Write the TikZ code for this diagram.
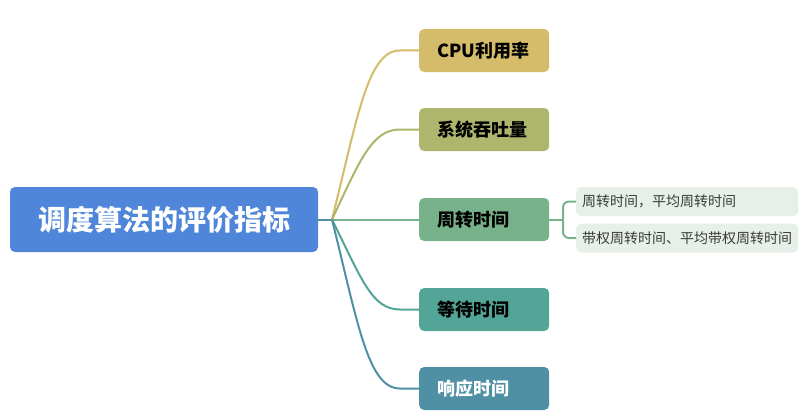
\documentclass[tikz,border=0pt]{standalone}
\usepackage{fontspec}
\setmainfont{Noto Sans CJK SC}
\usepackage{xcolor}
\usepackage{tikz}
\usetikzlibrary{positioning, calc}
\definecolor{rootblue}{HTML}{4F86D9}
\definecolor{cpucol}{HTML}{D4BC6A}
\definecolor{thrucol}{HTML}{AEB56C}
\definecolor{turncol}{HTML}{78B28A}
\definecolor{waitcol}{HTML}{53A597}
\definecolor{respcol}{HTML}{4F90A4}
\definecolor{leafbg}{HTML}{E6F0E8}
\definecolor{leaftext}{HTML}{3A3A3A}

\begin{document}
\begin{tikzpicture}[
    x=1pt, y=-1pt,
    rootbox/.style={
        rectangle, rounded corners=5pt, fill=rootblue, text=white,
        minimum width=308pt, minimum height=65pt, inner sep=0pt,
        font=\fontsize{28}{32}\selectfont\bfseries,
    },
    branch/.style={
        rectangle, rounded corners=5pt, anchor=west,
        minimum width=130pt, minimum height=43pt, inner sep=0pt,
        text width=94pt, align=left, inner xsep=18pt,
        font=\fontsize{18}{20}\selectfont\bfseries,
    },
    leaf/.style={
        rectangle, rounded corners=5pt, fill=leafbg, text=leaftext, anchor=west,
        minimum height=29pt, inner sep=0pt, text width=210pt, align=left,
        inner xsep=6pt, font=\fontsize{14}{16}\selectfont,
    },
    link/.style={line width=2pt},
]
\useasboundingbox (0,0) rectangle (808,420);

% ── Root and hub ────────────────────────────────────────────────────────────
\node[rootbox] (root) at (164,219.5) {调度算法的评价指标};
\coordinate (hub) at (332,219.5);

% ── Branches ───────────────────────────────────────────────────────────────
\def\brX{419}
\node[branch, fill=cpucol, text=black]  (cpu)  at (\brX,50.5)  {CPU利用率};
\node[branch, fill=thrucol, text=black] (thru) at (\brX,129.5) {系统吞吐量};
\node[branch, fill=turncol, text=black] (turn) at (\brX,219.5) {周转时间};
\node[branch, fill=waitcol, text=black] (wait) at (\brX,309.5) {等待时间};
\node[branch, fill=respcol, text=white] (resp) at (\brX,388.5) {响应时间};

% ── Leaves of 周转时间 ──────────────────────────────────────────────────────
\node[leaf] (avg)  at (576,201.5) {周转时间，平均周转时间};
\node[leaf] (wavg) at (576,238)   {带权周转时间、平均带权周转时间};

% ── Connectors ─────────────────────────────────────────────────────────────
\draw[link, draw=respcol] (root.east) -- (hub);
\draw[link, draw=cpucol]  (hub) .. controls (358,115) and (368,50.5) .. ([xshift=-19pt]cpu.west) -- (cpu.west);
\draw[link, draw=thrucol] (hub) .. controls (360,160) and (372,129.5) .. ([xshift=-19pt]thru.west) -- (thru.west);
\draw[link, draw=turncol] (hub) -- (turn.west);
\draw[link, draw=waitcol] (hub) .. controls (362,280) and (372,309.5) .. ([xshift=-19pt]wait.west) -- (wait.west);
\draw[link, draw=respcol] (hub) .. controls (358,324) and (368,388.5) .. ([xshift=-19pt]resp.west) -- (resp.west);

\coordinate (fork) at (563,219.5);
\draw[link, draw=turncol] (turn.east) -- (fork);
\draw[link, draw=turncol, rounded corners=6pt] (fork) |- (avg.west);
\draw[link, draw=turncol, rounded corners=6pt] (fork) |- (wavg.west);

\end{tikzpicture}
\end{document}
